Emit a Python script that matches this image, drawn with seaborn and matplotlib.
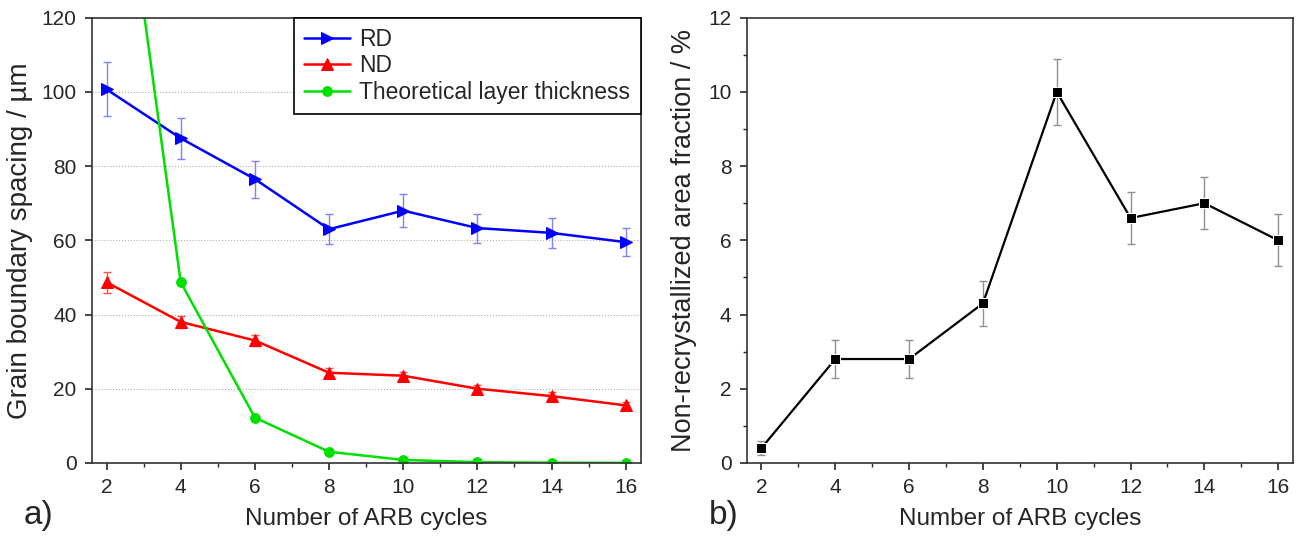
import numpy as np
import pandas as pd
import matplotlib
matplotlib.use('Agg')
import matplotlib.pyplot as plt
import seaborn as sns
from matplotlib.ticker import MultipleLocator

# dados
cycles = [2, 4, 6, 8, 10, 12, 14, 16]
rd = [100.7, 87.5, 76.5, 63.0, 68.0, 63.3, 62.0, 59.5]
rd_err = [7.3, 5.5, 5.0, 4.0, 4.5, 3.9, 4.0, 3.7]
nd = [48.7, 38.0, 33.0, 24.3, 23.5, 20.0, 18.0, 15.5]
nd_err = [2.8, 1.6, 1.5, 1.2, 1.0, 1.0, 1.0, 0.8]
theo = [195.0, 48.7, 12.2, 3.0, 0.8, 0.2, 0.05, 0.01]
nonrex = [0.4, 2.8, 2.8, 4.3, 10.0, 6.6, 7.0, 6.0]
nonrex_err = [0.2, 0.5, 0.5, 0.6, 0.9, 0.7, 0.7, 0.7]

sns.set_style('ticks')
plt.rcParams['font.family'] = ['Liberation Sans', 'DejaVu Sans']

fig = plt.figure(figsize=(13.1, 5.37), dpi=100)
ax1 = fig.add_axes([0.070, 0.138, 0.419, 0.829])
ax2 = fig.add_axes([0.570, 0.138, 0.417, 0.829])

df = pd.DataFrame({'x': cycles, 'RD': rd, 'ND': nd, 'Theo': theo})

# painel a)
ax1.errorbar(cycles, rd, yerr=rd_err, fmt='none', ecolor='#8080ff', elinewidth=1, capsize=3)
ax1.errorbar(cycles, nd, yerr=nd_err, fmt='none', ecolor='#ff5050', elinewidth=1, capsize=3)
sns.lineplot(data=df, x='x', y='RD', ax=ax1, color='#0000ff', marker='>', markersize=9,
             markeredgecolor='#0000ff', linewidth=1.8, label='RD')
sns.lineplot(data=df, x='x', y='ND', ax=ax1, color='#ff0000', marker='^', markersize=8,
             markeredgecolor='#ff0000', linewidth=1.8, label='ND')
sns.lineplot(data=df, x='x', y='Theo', ax=ax1, color='#00e000', marker='o', markersize=7,
             markeredgecolor='#00e000', linewidth=1.8, label='Theoretical layer thickness')
ax1.set_xlim(1.6, 16.4)
ax1.set_ylim(0, 120)
ax1.set_xticks(cycles)
ax1.xaxis.set_minor_locator(MultipleLocator(1))
ax1.set_yticks([0, 20, 40, 60, 80, 100, 120])
ax1.yaxis.grid(True, linestyle=':', color='#b0b0b0', linewidth=0.8)
ax1.set_xlabel('Number of ARB cycles', fontsize=17.5, labelpad=8)
ax1.set_ylabel('Grain boundary spacing / µm', fontsize=20, labelpad=6)
leg = ax1.legend(loc='upper right', fontsize=16.5, frameon=True, fancybox=False,
                 borderaxespad=0, handlelength=2.0, handletextpad=0.4,
                 labelspacing=0.15, borderpad=0.45, framealpha=1)
leg.get_frame().set_edgecolor('black')
leg.get_frame().set_linewidth(1.2)
fig.text(0.018, 0.025, 'a)', fontsize=24)

# painel b)
ax2.errorbar(cycles, nonrex, yerr=nonrex_err, fmt='none', ecolor='#909090', elinewidth=1, capsize=3)
sns.lineplot(x=cycles, y=nonrex, ax=ax2, color='black', marker='s', markersize=7,
             linewidth=1.6)
ax2.set_xlim(1.6, 16.4)
ax2.set_ylim(0, 12)
ax2.set_xticks(cycles)
ax2.xaxis.set_minor_locator(MultipleLocator(1))
ax2.yaxis.set_minor_locator(MultipleLocator(1))
ax2.set_xlabel('Number of ARB cycles', fontsize=17.5, labelpad=8)
ax2.set_ylabel('Non-recrystallized area fraction / %', fontsize=19.5, labelpad=8)
fig.text(0.541, 0.025, 'b)', fontsize=24)

for ax in (ax1, ax2):
    for s in ax.spines.values():
        s.set_linewidth(1.2)
        s.set_color('#333333')
    ax.tick_params(labelsize=15, width=1.2, length=5, direction='out', pad=6)
    ax.tick_params(which='minor', width=1, length=3)

plt.savefig('out.png', dpi=100)
